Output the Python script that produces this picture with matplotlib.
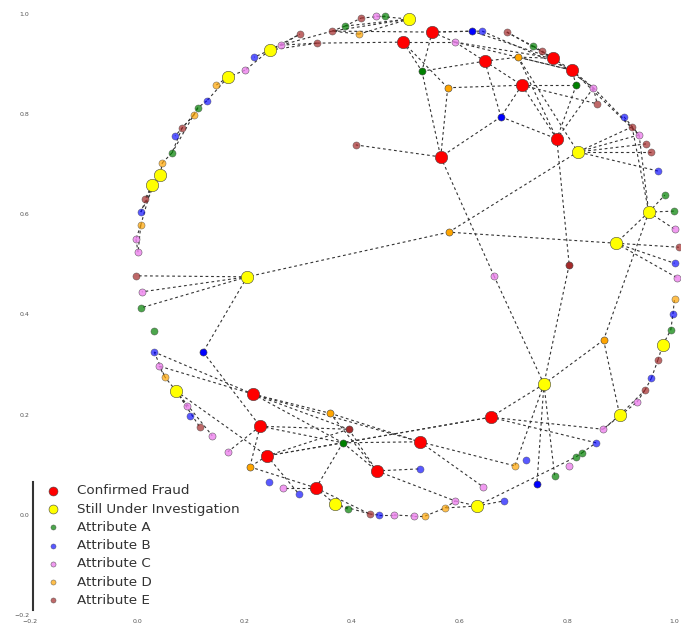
import matplotlib
matplotlib.use('Agg')
import matplotlib.pyplot as plt

# node positions (x list, y list per group)
fraud_x = [.495, .549, .647, .716, .774, .809, .781, .565, .216, .229, .242, .333, .446, .526, .658]
fraud_y = [.943, .963, .905, .857, .911, .887, .750, .714, .241, .177, .118, .054, .088, .146, .195]
inv_x = [.506, .247, .169, .043, .028, .205, .820, .952, .891, .978, .757, .898, .632, .368, .073]
inv_y = [.989, .927, .873, .678, .658, .475, .724, .604, .542, .339, .261, .199, .018, .022, .247]

a_x = [.387, .461, .737, .982, .113, .065, .007, .032, .999, .993, .777, .828, .817, .392]
a_y = [.975, .995, .935, .638, .812, .722, .413, .367, .606, .369, .078, .124, .116, .012]
b_x = [.642, .906, .969, .218, .130, .071, .007, 1.0, .997, .957, .854, .723, .682, .032, .099, .246, .301, .450, .526]
b_y = [.965, .794, .686, .913, .826, .756, .604, .502, .401, .273, .144, .110, .028, .325, .197, .066, .042, 0.0, .092]
c_x = [.445, .592, .849, .934, .268, .201, -.002, .002, .009, 1.0, 1.005, .930, .867, .804, .644, .592, .664, .041, .093, .140, .169, .272, .478, .515]
c_y = [.995, .943, .852, .758, .937, .887, .550, .524, .445, .570, .473, .225, .171, .098, .056, .028, .477, .297, .217, .158, .126, .054, 0.0, -.002]
d_x = [.413, .147, .106, .047, .007, 1.0, .703, .573, .052, .536]
d_y = [.959, .857, .798, .702, .578, .431, .098, .014, .275, -.002]
e_x = [.417, .688, .753, .856, .921, .947, .956, .407, .303, .363, .335, .084, .015, -.002, 1.008, .969, .945, .117, .433]
e_y = [.991, .963, .925, .820, .774, .740, .724, .738, .959, .965, .941, .772, .630, .477, .534, .309, .249, .175, .002]

# inner nodes of the same attributes, drawn without transparency
a2_x = [.530, .817, .383]
a2_y = [.885, .857, .144]
b2_x = [.623, .677, .123, .744]
b2_y = [.965, .794, .325, .062]
d2_x = [.709, .578, .868, .580, .359, .210]
d2_y = [.913, .852, .349, .564, .203, .096]
e2_x = [.804, .394]
e2_y = [.499, .171]

edges = """
R0-C1 R1-C1 R1-b0 R1-B0 R1-a0 R0-a0 R0-d1 a0-R2 a0-R7 d1-R7 d1-R3 C1-R2 R2-R3 R2-b1 R3-b1 b1-R7 b1-R6 R3-R6
R2-d0 d0-R4 d0-R5 d0-Y6 d0-R6 R3-a1 R3-E3 a1-R6 C2-R6 a1-R5 R5-C2 C2-E3 R4-R5 C1-R4 C1-R5 b0-R4 B0-R5 E1-R4
A2-R4 E2-R4 R5-C3 C2-C3 C3-Y6 E4-Y6 E5-Y6 E6-Y6 B2-Y6 C3-Y7 E4-Y7 B1-C3 R7-E7 R7-C16 C16-Y10 e0-Y10 R6-e0 d2-Y10
Y7-Y8 Y7-A3 Y7-A8 Y7-C9 Y8-E14 Y8-B7 Y8-C10 Y8-d3 d3-Y5 d3-Y6 Y7-d2 d2-Y11 Y5-E13 Y5-C8 Y5-A6 Y5-b2 b2-R9
Y10-R14 Y10-b3 Y10-A10 Y10-D6 R14-C12 R14-B10 R13-D6 R14-R10 R14-a2 a2-R13 R8-B13 R8-C17 R8-a2 R8-R13 R8-e1 R8-d4
d4-R12 d4-R13 e1-R12 a2-R12 a2-R11 a2-R10 e1-R10 R9-e1 R9-a2 R9-C20 R9-d5 R10-d5 R10-B16 R11-E18 R11-C21 d5-R11
R12-C15 R12-B18 R13-C14 Y14-C19 Y14-E17 Y14-R10 Y14-C18 Y14-D8 D8-C17 B13-D8 Y13-A13 Y13-E18 Y13-R11 E18-B17
B17-C22 C22-C23 C23-D9 D9-D7 D7-C15 C15-Y12 Y12-D7 Y12-B12 Y12-A12 A12-A11 A11-B10 Y11-C12 Y11-E16 C12-C11
C11-E16 E16-B9 B9-E15 E15-Y9 Y9-A9 A9-B8 B8-D5 Y1-B3 Y1-C5 C5-Y2 Y2-D1 Y2-B4 B4-A4 A4-D2 D2-E11 D2-B5 A4-A5
E11-A5 D3-A5 Y3-D3 Y3-Y4 Y4-E12 Y3-B6 Y4-B6 Y4-D4 D4-C6 C6-C7 D4-C7 Y1-E10 Y1-E8 C4-E8 C4-E9 C4-E10 Y1-C4
E9-A0 A0-E0 E0-A1 A1-C0 C0-Y0 Y0-D0 D0-E9 Y0-A0 Y0-E9 E9-R1 E10-R0 E1-A2 A2-E2 E2-C2
""".split()

fig = plt.figure(figsize=(6.81, 6.28), dpi=100)
ax = fig.add_axes([29.5 / 681, 12.7 / 628, 651.5 / 681, 615.3 / 628])

pos = {}
for key, xs, ys in [('R', fraud_x, fraud_y), ('Y', inv_x, inv_y), ('A', a_x, a_y), ('B', b_x, b_y),
                    ('C', c_x, c_y), ('D', d_x, d_y), ('E', e_x, e_y), ('a', a2_x, a2_y),
                    ('b', b2_x, b2_y), ('d', d2_x, d2_y), ('e', e2_x, e2_y)]:
    for i in range(len(xs)):
        pos[key + str(i)] = (xs[i], ys[i])

for e in edges:
    n1, n2 = e.split('-')
    ax.plot([pos[n1][0], pos[n2][0]], [pos[n1][1], pos[n2][1]], color='#333333', lw=0.8,
            ls=(0, (2.5, 2.5)), zorder=1)

style = dict(edgecolors='#444444', linewidths=0.4, zorder=3)
ax.scatter(fraud_x, fraud_y, s=80, c='red', label='Confirmed Fraud', **style)
ax.scatter(inv_x, inv_y, s=80, c='yellow', label='Still Under Investigation', **style)
ax.scatter(a_x, a_y, s=26, c='green', alpha=0.7, label='Attribute A', **style)
ax.scatter(b_x, b_y, s=26, c='blue', alpha=0.65, label='Attribute B', **style)
ax.scatter(c_x, c_y, s=26, c='violet', alpha=0.8, label='Attribute C', **style)
ax.scatter(d_x, d_y, s=26, c='orange', alpha=0.7, label='Attribute D', **style)
ax.scatter(e_x, e_y, s=26, c='brown', alpha=0.7, label='Attribute E', **style)
ax.scatter(a2_x, a2_y, s=26, c='green', **style)
ax.scatter(b2_x, b2_y, s=26, c='blue', **style)
ax.scatter(d2_x, d2_y, s=26, c='orange', **style)
ax.scatter(e2_x, e2_y, s=26, c='brown', **style)

ax.set_xlim(-0.2, 1.012)
ax.set_ylim(-0.2, 1.027)
ax.set_xticks([-0.2, 0.0, 0.2, 0.4, 0.6, 0.8, 1.0])
ax.set_yticks([-0.2, 0.0, 0.2, 0.4, 0.6, 0.8, 1.0])
ax.tick_params(length=0, labelsize=4.5, labelcolor='#555555', pad=2.5)
for s in ['top', 'right', 'bottom']:
    ax.spines[s].set_visible(False)
ax.spines['left'].set_position(('data', -0.194))
ax.spines['left'].set_bounds(-0.189, 0.066)
ax.spines['left'].set_linewidth(1.5)
ax.spines['left'].set_color('#333333')

ax.legend(loc='lower left', bbox_to_anchor=(-0.002, -0.005), frameon=False, fontsize=9.7,
          labelcolor='#333333', labelspacing=0.39, handletextpad=0.75, borderpad=0.35,
          markerscale=0.72)

fig.savefig('out.png', dpi=100)
